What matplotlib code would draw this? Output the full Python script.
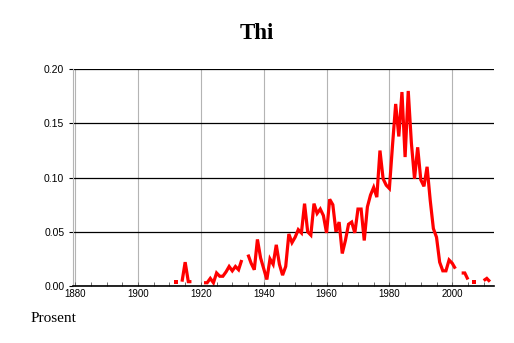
import numpy as np
import matplotlib
matplotlib.use("Agg")
import matplotlib.pyplot as plt
from matplotlib.ticker import MultipleLocator

nan = np.nan

# share of newborns named "Thi", per year (gaps = suppressed values)
years = np.arange(1880, 2013)
vals = {
    1912: 0.004,
    1914: 0.004, 1915: 0.022, 1916: 0.004, 1917: 0.004,
    1921: 0.003, 1922: 0.003, 1923: 0.007, 1924: 0.003, 1925: 0.012,
    1926: 0.009, 1927: 0.009, 1928: 0.013, 1929: 0.018, 1930: 0.014,
    1931: 0.018, 1932: 0.015, 1933: 0.024,
    1935: 0.029, 1936: 0.021, 1937: 0.015, 1938: 0.043, 1939: 0.026,
    1940: 0.016, 1941: 0.006, 1942: 0.025, 1943: 0.020, 1944: 0.038,
    1945: 0.020, 1946: 0.010, 1947: 0.018, 1948: 0.048, 1949: 0.040,
    1950: 0.045, 1951: 0.052, 1952: 0.049, 1953: 0.076, 1954: 0.050,
    1955: 0.047, 1956: 0.076, 1957: 0.067, 1958: 0.071, 1959: 0.065,
    1960: 0.049, 1961: 0.080, 1962: 0.075, 1963: 0.050, 1964: 0.059,
    1965: 0.030, 1966: 0.042, 1967: 0.057, 1968: 0.059, 1969: 0.049,
    1970: 0.071, 1971: 0.071, 1972: 0.042, 1973: 0.073, 1974: 0.084,
    1975: 0.091, 1976: 0.082, 1977: 0.125, 1978: 0.099, 1979: 0.093,
    1980: 0.090, 1981: 0.130, 1982: 0.168, 1983: 0.138, 1984: 0.179,
    1985: 0.119, 1986: 0.180, 1987: 0.132, 1988: 0.099, 1989: 0.128,
    1990: 0.098, 1991: 0.092, 1992: 0.110, 1993: 0.079, 1994: 0.053,
    1995: 0.045, 1996: 0.022, 1997: 0.014, 1998: 0.014, 1999: 0.024,
    2000: 0.021, 2001: 0.016,
    2003: 0.012, 2004: 0.012, 2005: 0.006,
    2007: 0.004,
    2010: 0.005, 2011: 0.007, 2012: 0.004,
}
share = np.array([vals.get(y, nan) for y in years])

fig = plt.figure(figsize=(5.14, 3.43), dpi=100)
ax = fig.add_axes([0.1414, 0.1662, 0.8191, 0.6318])

ax.plot(years, share, color="#ff0000", lw=2.3, solid_capstyle="butt",
        solid_joinstyle="miter")

# single years with no neighbours would not show as a line
prev = np.r_[nan, share[:-1]]
nxt = np.r_[share[1:], nan]
lone = ~np.isnan(share) & np.isnan(prev) & np.isnan(nxt)
ax.plot(years[lone], share[lone], ls="none", marker="s", ms=2.3,
        color="#ff0000", mew=0)

ax.set_xlim(1879.2, 2013.2)
ax.set_ylim(0, 0.2)
ax.xaxis.set_major_locator(MultipleLocator(20))
ax.xaxis.set_minor_locator(MultipleLocator(5))
ax.yaxis.set_major_locator(MultipleLocator(0.05))
ax.yaxis.set_major_formatter(plt.FormatStrFormatter("%.2f"))

ax.grid(axis="x", color="#b4b4b4", lw=0.8)
ax.grid(axis="y", color="black", lw=0.9)
ax.set_axisbelow(True)

for s in ["top", "right"]:
    ax.spines[s].set_visible(False)
ax.spines["left"].set_color("#b4b4b4")
ax.spines["bottom"].set_color("black")
ax.spines["bottom"].set_linewidth(1.2)

ax.tick_params(axis="x", which="both", direction="in", length=3, width=0.6,
               pad=2, labelsize=7, color="#555555")
ax.tick_params(axis="y", direction="out", length=3, width=0.8, pad=3,
               labelsize=7.5, color="black")
for lab in ax.get_xticklabels() + ax.get_yticklabels():
    lab.set_family("Liberation Sans")

fig.text(0.5, 0.903, "Thi", ha="center", va="center",
         family="Liberation Serif", weight="bold", fontsize=16.5)
fig.text(0.06, 0.062, "Prosent", ha="left", va="baseline",
         family="Liberation Serif", fontsize=11)

fig.savefig("out.png", dpi=100)
